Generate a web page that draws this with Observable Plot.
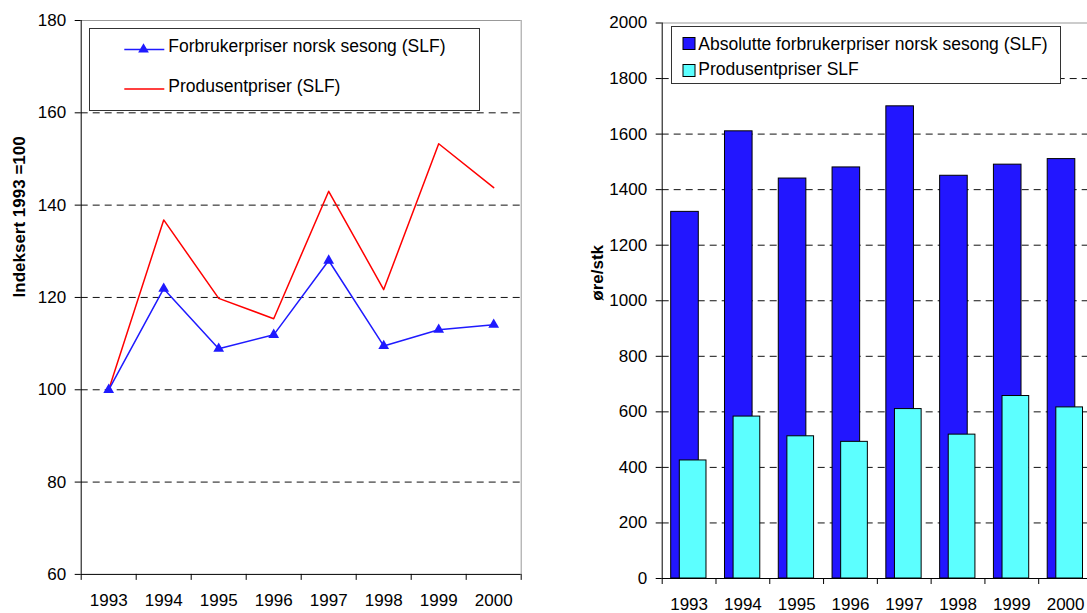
<!DOCTYPE html>
<html><head><meta charset="utf-8">
<script src="https://cdn.jsdelivr.net/npm/d3@7"></script>
<script src="https://cdn.jsdelivr.net/npm/@observablehq/plot@0.6"></script>
<style>
html,body{margin:0;padding:0;background:#fff;overflow:hidden}
#wrap{position:relative;width:1087px;height:613px;overflow:hidden;font-family:"Liberation Sans",Arial,sans-serif}
#left{position:absolute;left:0;top:0}
#right{position:absolute;left:540px;top:0;width:553px}
#wrap svg{max-width:none !important}
.legend{position:absolute;overflow:visible}
</style></head><body>
<div id="wrap">
  <div id="left"></div>
  <div id="right"></div>
  <svg class="legend" id="legL" style="left:89px;top:28px" width="391" height="83"></svg>
  <svg class="legend" id="legR" style="left:671px;top:26px" width="390" height="58"></svg>
</div>
<script>
// ---- data ----
const years = ["1993", "1994", "1995", "1996", "1997", "1998", "1999", "2000"];
const consumerIndex = [100, 121.9, 108.9, 111.9, 128.0, 109.5, 113.0, 114.1];
const producerIndex = [100, 136.8, 119.8, 115.4, 143.0, 121.7, 153.3, 143.8];
const consumerAbs = [1320, 1610, 1440, 1480, 1700, 1450, 1490, 1510];
const producerAbs = [425, 583, 512, 492, 610, 518, 657, 616];
const indexTicks = [60, 80, 100, 120, 140, 160, 180];
const priceTicks = [0, 200, 400, 600, 800, 1000, 1200, 1400, 1600, 1800, 2000];
const leftSeries = ["Forbrukerpriser norsk sesong (SLF)", "Produsentpriser (SLF)"];
const rightSeries = ["Absolutte forbrukerpriser norsk sesong (SLF)", "Produsentpriser SLF"];
const leftYLabel = "Indeksert 1993 =100";
const rightYLabel = "øre/stk";

const BLUE = "#1f1aff", RED = "#ff0000", BARBLUE = "#2216ff", CYAN = "#5cffff";
const FONT = '"Liberation Sans", Arial, sans-serif';
const n = years.length;
const boundaries = d3.range(0, n + 1);
const centers = d3.range(n).map(i => i + 0.5);

const rowsL = years.map((y, i) => ({i, year: y, c: consumerIndex[i], p: producerIndex[i]}));
const rowsR = years.map((y, i) => ({i, year: y, c: consumerAbs[i], p: producerAbs[i]}));

const baseStyle = {fontFamily: FONT, fontSize: "17px", color: "#000", background: "transparent", overflow: "visible", maxWidth: "none"};

// ---- left chart ----
const left = Plot.plot({
  width: 540, height: 613,
  marginLeft: 80.7, marginRight: 19.3, marginTop: 20, marginBottom: 39.1,
  style: baseStyle,
  x: {type: "linear", domain: [0, n]},
  y: {type: "linear", domain: [indexTicks[0], indexTicks[indexTicks.length - 1]]},
  marks: [
    Plot.ruleY(indexTicks.slice(1, -1), {stroke: "#111", strokeDasharray: "7,5"}),
    Plot.ruleY([indexTicks[indexTicks.length - 1]], {stroke: "#999"}),
    Plot.ruleX([n], {stroke: "#999"}),
    Plot.axisY({ticks: indexTicks, tickSize: 6, tickPadding: 9, tickFormat: d => String(d), label: null, stroke: "#000"}),
    Plot.axisX({ticks: boundaries, tickSize: 6, tickFormat: () => "", label: null, stroke: "#000"}),
    Plot.axisX({ticks: centers, tickSize: 0, tickPadding: 19.5, tickFormat: v => years[Math.floor(v)], label: null}),
    Plot.ruleX([0], {stroke: "#000"}),
    Plot.ruleY([indexTicks[0]], {stroke: "#000"}),
    Plot.line(rowsL, {x: d => d.i + 0.5, y: "p", stroke: RED, strokeWidth: 1.5}),
    Plot.line(rowsL, {x: d => d.i + 0.5, y: "c", stroke: BLUE, strokeWidth: 1.5}),
    Plot.dot(rowsL, {x: d => d.i + 0.5, y: "c", symbol: "triangle", r: 4, fill: BLUE, stroke: "none"}),
    Plot.text([leftYLabel], {frameAnchor: "left", text: d => d, rotate: -90, dx: -61.2, fontWeight: "bold", fontSize: 17})
  ]
});
document.getElementById("left").append(left);

// ---- right chart ----
const right = Plot.plot({
  width: 553, height: 613,
  marginLeft: 121.7, marginRight: 1, marginTop: 22.5, marginBottom: 35,
  style: baseStyle,
  x: {type: "linear", domain: [0, n]},
  y: {type: "linear", domain: [priceTicks[0], priceTicks[priceTicks.length - 1]]},
  marks: [
    Plot.ruleY(priceTicks.slice(1, -1), {stroke: "#111", strokeDasharray: "7,5"}),
    Plot.ruleY([priceTicks[priceTicks.length - 1]], {stroke: "#999"}),
    Plot.rect(rowsR, {x1: d => d.i, x2: d => d.i + 1, y1: 0, y2: "c", fill: BARBLUE, stroke: "#000", strokeWidth: 1, insetLeft: 9, insetRight: 17.2}),
    Plot.rect(rowsR, {x1: d => d.i, x2: d => d.i + 1, y1: 0, y2: "p", fill: CYAN, stroke: "#000", strokeWidth: 1, insetLeft: 17.6, insetRight: 9.5}),
    Plot.axisY({ticks: priceTicks, tickSize: 6, tickPadding: 9, tickFormat: d => String(d), label: null, stroke: "#000"}),
    Plot.axisX({ticks: boundaries, tickSize: 6, tickFormat: () => "", label: null, stroke: "#000"}),
    Plot.axisX({ticks: centers, tickSize: 0, tickPadding: 19.6, tickFormat: v => years[Math.floor(v)], label: null}),
    Plot.ruleX([0], {stroke: "#000"}),
    Plot.ruleY([priceTicks[0]], {stroke: "#000"}),
    Plot.text([rightYLabel], {frameAnchor: "left", text: d => d, rotate: -90, dx: -64.7, fontWeight: "bold", fontSize: 17})
  ]
});
document.getElementById("right").append(right);

// ---- legends ----
const legL = d3.select("#legL").style("font-family", FONT).style("font-size", "17.5px");
legL.append("rect").attr("x", 0.5).attr("y", 0.5).attr("width", 390).attr("height", 82)
  .attr("fill", "#fff").attr("stroke", "#333");
const lrows = [
  {name: leftSeries[0], color: BLUE, lineY: 21.5, base: 24.3, marker: true},
  {name: leftSeries[1], color: RED, lineY: 61, base: 64.3, marker: false}
];
lrows.forEach(r => {
  legL.append("line").attr("x1", 35.3).attr("x2", 75.3).attr("y1", r.lineY).attr("y2", r.lineY)
    .attr("stroke", r.color).attr("stroke-width", 1.5);
  if (r.marker) legL.append("path").attr("d", d3.symbol(d3.symbolTriangle, 50)())
    .attr("transform", `translate(54.5,${r.lineY})`).attr("fill", r.color);
  legL.append("text").attr("x", 79.3).attr("y", r.base).text(r.name);
});

const legR = d3.select("#legR").style("font-family", FONT).style("font-size", "17.5px");
legR.append("rect").attr("x", 0.5).attr("y", 0.5).attr("width", 389).attr("height", 57)
  .attr("fill", "#fff").attr("stroke", "#333");
const rrows = [
  {name: rightSeries[0], color: BARBLUE, sq: 11.5, base: 24},
  {name: rightSeries[1], color: CYAN, sq: 38.5, base: 48.5}
];
rrows.forEach(r => {
  legR.append("rect").attr("x", 12).attr("y", r.sq).attr("width", 12).attr("height", 12)
    .attr("fill", r.color).attr("stroke", "#000");
  legR.append("text").attr("x", 27.3).attr("y", r.base).text(r.name);
});
</script>
</body></html>
